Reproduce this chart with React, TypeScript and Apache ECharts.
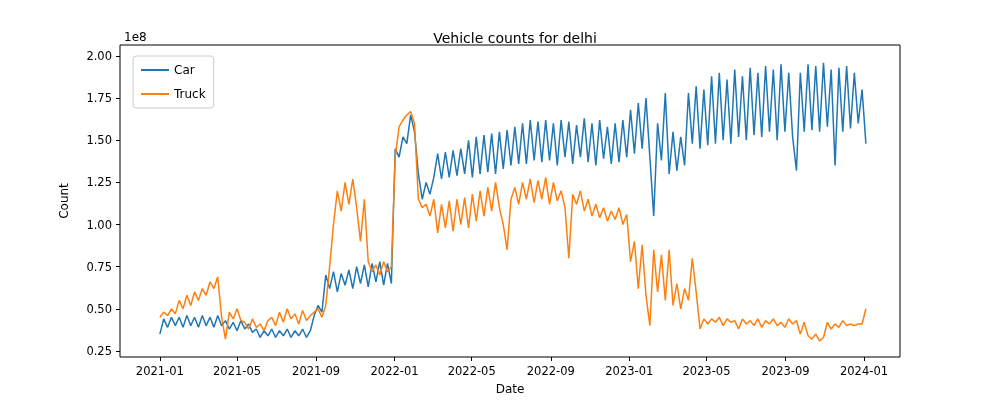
import React, { useEffect, useRef } from 'react';
import * as echarts from 'echarts';

// one value every 6 days starting 2021-01-01, in units of 1e8
const stepDays = 6;
const carValues = [
  0.35, 0.44, 0.39, 0.45, 0.40, 0.45, 0.39, 0.46, 0.40, 0.45, 0.39, 0.46, 0.40, 0.45, 0.39, 0.46, 0.40,
  0.43, 0.38, 0.42, 0.37, 0.43, 0.38, 0.41, 0.36,
  0.38, 0.33, 0.37, 0.34, 0.38, 0.33, 0.37, 0.34, 0.38, 0.33, 0.37, 0.34, 0.38, 0.33, 0.37,
  0.46, 0.52, 0.48,
  0.70, 0.62, 0.72, 0.60, 0.71, 0.64, 0.73, 0.62, 0.75, 0.65, 0.76, 0.63, 0.77, 0.66, 0.78, 0.64, 0.77, 0.65,
  1.45, 1.40, 1.52, 1.48, 1.65, 1.55,
  1.30, 1.15, 1.25, 1.18, 1.28,
  1.42, 1.27, 1.43, 1.28, 1.44, 1.29, 1.45,
  1.30, 1.50, 1.28, 1.52, 1.30, 1.53, 1.31, 1.54, 1.30, 1.55, 1.33, 1.56, 1.35, 1.58, 1.36, 1.60, 1.36, 1.62, 1.38, 1.61, 1.37, 1.62,
  1.38, 1.60, 1.35, 1.62, 1.40, 1.61, 1.36, 1.59, 1.40, 1.63, 1.37, 1.60, 1.35, 1.62, 1.39, 1.58, 1.36, 1.60, 1.37, 1.62, 1.40,
  1.68, 1.42, 1.72, 1.45, 1.75, 1.40, 1.05,
  1.60, 1.38, 1.78, 1.30, 1.55, 1.32, 1.52, 1.35,
  1.78, 1.48, 1.82, 1.45, 1.80, 1.47,
  1.88, 1.48, 1.90, 1.50, 1.86, 1.48, 1.92, 1.52, 1.88, 1.50, 1.93, 1.53, 1.90, 1.52, 1.94, 1.55, 1.92, 1.50, 1.95, 1.55, 1.90, 1.52,
  1.32, 1.90, 1.55, 1.95, 1.56, 1.94, 1.55, 1.96, 1.58, 1.92, 1.35, 1.93, 1.55, 1.94, 1.57, 1.90, 1.60, 1.80, 1.48,
];
const truckValues = [
  0.45, 0.48, 0.46, 0.50, 0.47,
  0.55, 0.50, 0.58, 0.52, 0.60, 0.55, 0.62, 0.58,
  0.66, 0.62, 0.69,
  0.45, 0.32,
  0.48, 0.44, 0.50, 0.43,
  0.42, 0.38, 0.44, 0.39, 0.41, 0.37, 0.43,
  0.45, 0.40, 0.48, 0.42, 0.50, 0.44, 0.47, 0.41, 0.49, 0.43, 0.46, 0.48,
  0.50, 0.45, 0.52, 0.75,
  1.00, 1.20, 1.08, 1.25, 1.12, 1.27, 1.10,
  0.90, 1.15,
  0.78, 0.72, 0.76, 0.70, 0.78, 0.72, 0.75,
  1.40, 1.58, 1.62, 1.65, 1.67,
  1.60, 1.15, 1.10, 1.12,
  1.05, 1.15, 0.95, 1.12, 0.98, 1.14, 0.96, 1.15, 1.00, 1.16, 0.98, 1.18, 1.02,
  1.20, 1.05, 1.22, 1.08, 1.25, 1.10, 1.00,
  0.85, 1.15,
  1.22, 1.12, 1.25, 1.15, 1.27, 1.13, 1.26, 1.15, 1.28, 1.12, 1.25, 1.14,
  1.20, 1.10, 0.80, 1.18,
  1.12, 1.20, 1.08, 1.15, 1.05, 1.12, 1.04, 1.10,
  1.02, 1.08, 1.03, 1.10, 1.00, 1.06,
  0.78, 0.90, 0.62, 0.88, 0.58,
  0.40, 0.85,
  0.60, 0.82, 0.55, 0.85,
  0.52, 0.65, 0.50, 0.62, 0.55,
  0.80, 0.60, 0.38,
  0.44, 0.41, 0.44, 0.42, 0.45, 0.40, 0.44, 0.42, 0.43, 0.38, 0.44, 0.41, 0.43, 0.40, 0.44, 0.39, 0.43, 0.41, 0.44, 0.40, 0.42, 0.39, 0.44, 0.41, 0.43, 0.35, 0.42,
  0.34, 0.32, 0.35, 0.31, 0.33,
  0.42, 0.38, 0.41, 0.39, 0.43, 0.40, 0.41, 0.40, 0.41, 0.41, 0.50,
];
// tick positions in days since 2021-01-01
const xTickDays = [0, 120, 243, 365, 485, 608, 730, 850, 973, 1095];
const xTickLabels = ['2021-01', '2021-05', '2021-09', '2022-01', '2022-05', '2022-09', '2023-01', '2023-05', '2023-09', '2024-01'];
const yTicks = [0.25, 0.5, 0.75, 1.0, 1.25, 1.5, 1.75, 2.0];

const font = 'DejaVu Sans';

const App: React.FC = () => {
  const chartRef = useRef<HTMLDivElement | null>(null);

  useEffect(() => {
    if (!chartRef.current) return;
    const chart = echarts.init(chartRef.current, null, { renderer: 'svg' });

    const toPoints = (vals: number[]) => vals.map((v, i) => [i * stepDays, v]);

    const option = {
      animation: false,
      textStyle: { fontFamily: font },
      title: {
        text: 'Vehicle counts for delhi',
        left: 510, top: 26, textAlign: 'center',
        textStyle: { fontFamily: font, fontSize: 14, fontWeight: 'normal', color: '#000' },
      },
      legend: {
        orient: 'vertical', left: 133, top: 56,
        borderColor: '#ccc', borderWidth: 1, borderRadius: 3, padding: [8, 8],
        icon: 'rect', itemWidth: 28, itemHeight: 2, itemGap: 12,
        textStyle: { fontFamily: font, fontSize: 12, color: '#000' },
      },
      grid: { left: 120, right: 100, top: 45, bottom: 43, show: true, borderColor: '#000', borderWidth: 1 },
      xAxis: {
        type: 'value', min: -62, max: 1151,
        name: 'Date', nameLocation: 'middle', nameGap: 26,
        nameTextStyle: { fontFamily: font, fontSize: 12, color: '#000' },
        axisLine: { show: false, onZero: false },
        splitLine: { show: false },
        axisTick: { show: true, customValues: xTickDays, length: 4, lineStyle: { color: '#000' } },
        axisLabel: {
          customValues: xTickDays, color: '#000', fontSize: 11.5, fontFamily: font,
          formatter: (v: number) => xTickLabels[xTickDays.indexOf(v)] ?? '',
        },
      },
      yAxis: {
        type: 'value', min: 0.214, max: 2.065,
        name: 'Count', nameLocation: 'middle', nameGap: 50,
        nameTextStyle: { fontFamily: font, fontSize: 12, color: '#000' },
        axisLine: { show: false, onZero: false },
        splitLine: { show: false },
        axisTick: { show: true, customValues: yTicks, length: 4, lineStyle: { color: '#000' } },
        axisLabel: {
          customValues: yTicks, color: '#000', fontSize: 11.5, fontFamily: font,
          formatter: (v: number) => v.toFixed(2),
        },
      },
      graphic: [
        { type: 'text', left: 124, top: 31, style: { text: '1e8', fontFamily: font, fontSize: 12, fill: '#000' } },
      ],
      series: [
        { name: 'Car', type: 'line', symbol: 'none', data: toPoints(carValues), lineStyle: { color: '#1f77b4', width: 1.5 }, itemStyle: { color: '#1f77b4' } },
        { name: 'Truck', type: 'line', symbol: 'none', data: toPoints(truckValues), lineStyle: { color: '#ff7f0e', width: 1.5 }, itemStyle: { color: '#ff7f0e' } },
      ],
    };

    chart.setOption(option);
    return () => chart.dispose();
  }, []);

  return <div ref={chartRef} style={{ position: 'fixed', left: 0, top: 0, width: 1000, height: 400 }} />;
};

export default App;
